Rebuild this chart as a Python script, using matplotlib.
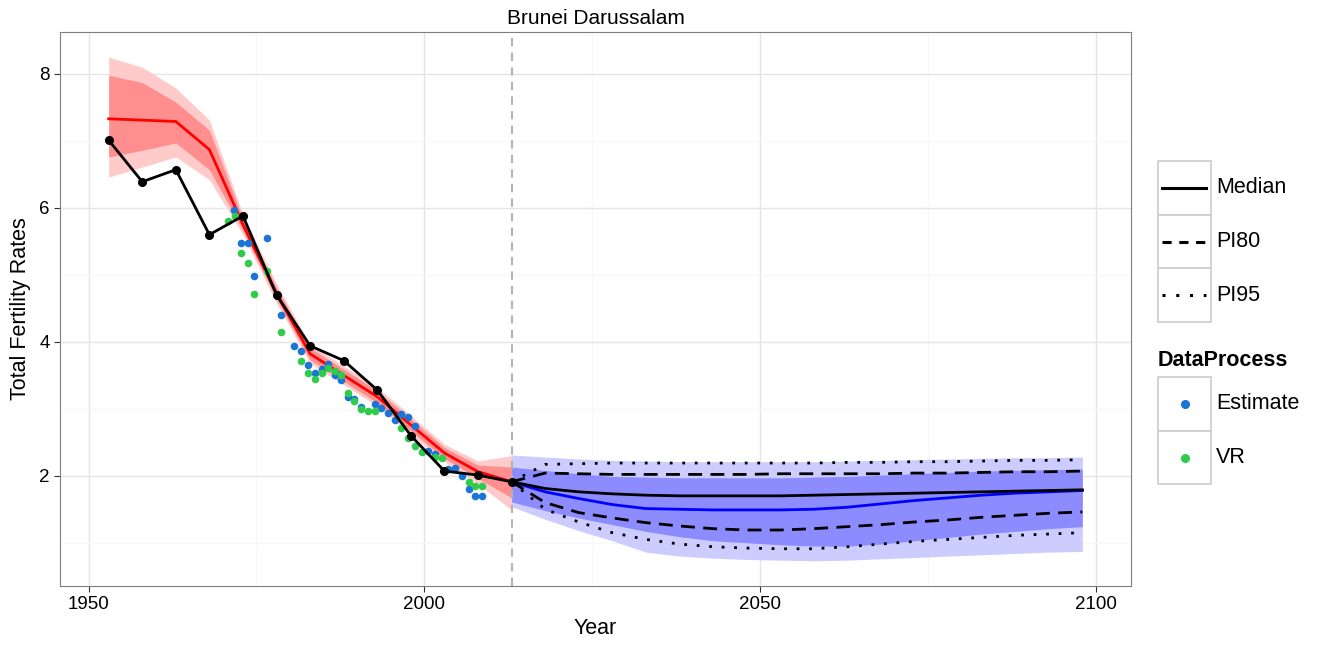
import matplotlib
matplotlib.use("Agg")
import matplotlib.pyplot as plt
from matplotlib.patches import Rectangle
from matplotlib.lines import Line2D
import numpy as np

plt.rcParams['font.family'] = ['Liberation Sans', 'DejaVu Sans']

# observed TFR (5-year periods)
obsYears = [1953, 1958, 1963, 1968, 1973, 1978, 1983, 1988, 1993, 1998, 2003, 2008, 2013]
obsTfr = [7.01, 6.39, 6.57, 5.60, 5.88, 4.70, 3.94, 3.72, 3.28, 2.60, 2.07, 2.01, 1.91]

# estimated past TFR (red)
pastMedian = [7.33, 7.31, 7.29, 6.87, 5.75, 4.72, 3.82, 3.50, 3.18, 2.76, 2.34, 2.06, 1.91]
pastU95 = [8.25, 8.10, 7.79, 7.31, 5.90, 4.86, 3.96, 3.64, 3.32, 2.90, 2.47, 2.22, 2.30]
pastU80 = [7.98, 7.87, 7.58, 7.16, 5.84, 4.81, 3.91, 3.59, 3.27, 2.85, 2.42, 2.16, 2.13]
pastL80 = [6.76, 6.86, 6.97, 6.57, 5.66, 4.63, 3.73, 3.41, 3.09, 2.67, 2.26, 1.96, 1.67]
pastL95 = [6.46, 6.61, 6.76, 6.42, 5.60, 4.58, 3.68, 3.36, 3.04, 2.62, 2.21, 1.88, 1.49]

# projection (blue)
projYears = list(range(2013, 2099, 5))
projMedian = [1.91, 1.76, 1.66, 1.57, 1.51, 1.50, 1.49, 1.49, 1.49, 1.50, 1.53, 1.58, 1.63, 1.67, 1.71, 1.74, 1.76, 1.78]
projU80 = [2.13, 2.08, 2.03, 1.99, 1.98, 1.97, 1.97, 1.97, 1.97, 1.98, 1.99, 2.01, 2.03, 2.05, 2.07, 2.08, 2.09, 2.10]
projU95 = [2.31, 2.28, 2.25, 2.23, 2.22, 2.21, 2.21, 2.21, 2.21, 2.21, 2.22, 2.23, 2.24, 2.25, 2.26, 2.27, 2.27, 2.28]
projL80 = [1.61, 1.48, 1.37, 1.27, 1.17, 1.09, 1.03, 1.00, 0.97, 0.95, 0.95, 0.98, 1.03, 1.08, 1.13, 1.17, 1.21, 1.24]
projL95 = [1.54, 1.35, 1.18, 1.03, 0.86, 0.80, 0.77, 0.75, 0.74, 0.73, 0.74, 0.76, 0.78, 0.80, 0.82, 0.84, 0.86, 0.87]

# second projection (black lines)
blkMedian = [1.91, 1.81, 1.76, 1.73, 1.71, 1.70, 1.70, 1.70, 1.70, 1.71, 1.72, 1.73, 1.74, 1.75, 1.76, 1.77, 1.78, 1.79]
blkU80 = [1.91, 2.04, 2.03, 2.02, 2.02, 2.02, 2.02, 2.02, 2.03, 2.03, 2.03, 2.03, 2.04, 2.04, 2.05, 2.06, 2.06, 2.07]
blkL80 = [1.91, 1.60, 1.45, 1.37, 1.30, 1.25, 1.21, 1.19, 1.19, 1.21, 1.24, 1.27, 1.31, 1.34, 1.38, 1.41, 1.44, 1.46]
blkU95 = [1.91, 2.17, 2.18, 2.19, 2.19, 2.19, 2.19, 2.19, 2.19, 2.19, 2.20, 2.20, 2.21, 2.21, 2.22, 2.23, 2.23, 2.24]
blkL95 = [1.91, 1.50, 1.31, 1.15, 1.05, 0.98, 0.94, 0.92, 0.91, 0.91, 0.94, 0.98, 1.02, 1.05, 1.08, 1.11, 1.13, 1.15]

# data points
estYears = [1971.7, 1972.7, 1973.7, 1974.7, 1976.6, 1978.7, 1980.6, 1981.7, 1982.7, 1983.7, 1984.7, 1985.7,
            1986.7, 1987.6, 1988.6, 1989.6, 1990.6, 1992.6, 1993.6, 1994.6, 1995.6, 1996.6, 1997.6, 1998.6,
            2000.6, 2001.6, 2003.6, 2004.6, 2005.6, 2006.6, 2007.6, 2008.6]
estTfr = [5.97, 5.47, 5.47, 4.99, 5.55, 4.40, 3.94, 3.87, 3.66, 3.54, 3.59, 3.67,
          3.51, 3.43, 3.18, 3.15, 3.03, 3.07, 3.01, 2.94, 2.84, 2.92, 2.88, 2.74,
          2.37, 2.33, 2.10, 2.11, 1.99, 1.80, 1.70, 1.70]
vrYears = [1970.7, 1971.8, 1972.7, 1973.7, 1974.7, 1976.6, 1978.7, 1981.7, 1982.7, 1983.7, 1984.7, 1985.7,
           1986.7, 1987.6, 1988.6, 1989.6, 1990.6, 1991.6, 1992.6, 1996.6, 1997.6, 1998.6, 1999.6, 2001.6,
           2002.6, 2006.6, 2007.6, 2008.6]
vrTfr = [5.81, 5.88, 5.32, 5.17, 4.72, 5.06, 4.14, 3.71, 3.54, 3.45, 3.54, 3.61,
         3.57, 3.50, 3.24, 3.12, 3.00, 2.97, 2.96, 2.72, 2.56, 2.45, 2.36, 2.28,
         2.26, 1.91, 1.84, 1.85]

estColor = '#1a75d6'
vrColor = '#2ecc4a'

fig = plt.figure(figsize=(13.18, 6.46), dpi=100)
ax = fig.add_axes([60/1318, 1-586/646, (1131-60)/1318, (586-32)/646])

ax.fill_between(obsYears, pastL95, pastU95, color='#ffcaca', lw=0)
ax.fill_between(obsYears, pastL80, pastU80, color='#ff8f8f', lw=0)
ax.plot(obsYears, pastMedian, color='#ff0000', lw=2)

ax.fill_between(projYears, projL95, projU95, color='#ccccff', lw=0)
ax.fill_between(projYears, projL80, projU80, color='#8c8cff', lw=0)
ax.plot(projYears, projMedian, color='#0000ff', lw=2)

ax.axvline(2013, color='#b3b3b3', lw=1.5, ls=(0, (4, 3)))

ax.scatter(estYears, estTfr, s=30, color=estColor, lw=0, zorder=3)
ax.scatter(vrYears, vrTfr, s=30, color=vrColor, lw=0, zorder=3)

ax.plot(obsYears, obsTfr, color='black', lw=2, marker='o', ms=5.5, zorder=4)
ax.plot(projYears, blkMedian, color='black', lw=2, zorder=4)
ax.plot(projYears, blkU80, color='black', lw=2, ls=(0, (5, 3)), zorder=4)
ax.plot(projYears, blkL80, color='black', lw=2, ls=(0, (5, 3)), zorder=4)
ax.plot(projYears, blkU95, color='black', lw=2, ls=(0, (1, 3.5)), zorder=4)
ax.plot(projYears, blkL95, color='black', lw=2, ls=(0, (1, 3.5)), zorder=4)

ax.set_xlim(1945.75, 2105.25)
ax.set_ylim(0.354, 8.626)
ax.set_xticks([1950, 2000, 2050, 2100])
ax.set_xticks([1975, 2025, 2075], minor=True)
ax.set_yticks([2, 4, 6, 8])
ax.set_yticks([1, 3, 5, 7], minor=True)
ax.grid(which='major', color='#e5e5e5', lw=1)
ax.grid(which='minor', color='#f7f7f7', lw=1)
ax.set_axisbelow(True)
for s in ax.spines.values():
    s.set_color('#7f7f7f')
ax.tick_params(which='major', labelsize=13.5, color='#333333', length=4, labelcolor='black')
ax.tick_params(which='minor', length=0)
ax.set_xlabel('Year', fontsize=15.5, labelpad=3)
ax.set_ylabel('Total Fertility Rates', fontsize=15.5, labelpad=6)
ax.set_title('Brunei Darussalam', fontsize=15, pad=6)

# legend drawn ggplot style
W, H = 1318.0, 646.0
def box(x0, y0, w, h):
    fig.add_artist(Rectangle((x0/W, 1-(y0+h)/H), w/W, h/H, transform=fig.transFigure,
                             facecolor='white', edgecolor='#cccccc', lw=1.2))

lineKeys = [('Median', '-'), ('PI80', (0, (3, 2.5))), ('PI95', (0, (1, 3.5)))]
for i, (lab, ls) in enumerate(lineKeys):
    y0 = 161 + i*53.7
    box(1158, y0, 53, 53.7)
    yc = 1 - (y0 + 26.8)/H
    fig.add_artist(Line2D([1162/W, 1206/W], [yc, yc], transform=fig.transFigure,
                          color='black', lw=2.2, ls=ls))
    fig.text(1216/W, yc, lab, fontsize=15.5, va='center', ha='left')

fig.text(1158/W, 1-360/H, 'DataProcess', fontsize=15.5, fontweight='bold', va='center', ha='left')
for i, (lab, col) in enumerate([('Estimate', estColor), ('VR', vrColor)]):
    y0 = 377 + i*53.7
    box(1158, y0, 53, 53.7)
    yc = 1 - (y0 + 26.8)/H
    fig.add_artist(Line2D([1184.5/W], [yc], transform=fig.transFigure, marker='o', ms=5.5,
                          color=col, lw=0))
    fig.text(1216/W, yc, lab, fontsize=15.5, va='center', ha='left')

fig.savefig('out.png', dpi=100)
